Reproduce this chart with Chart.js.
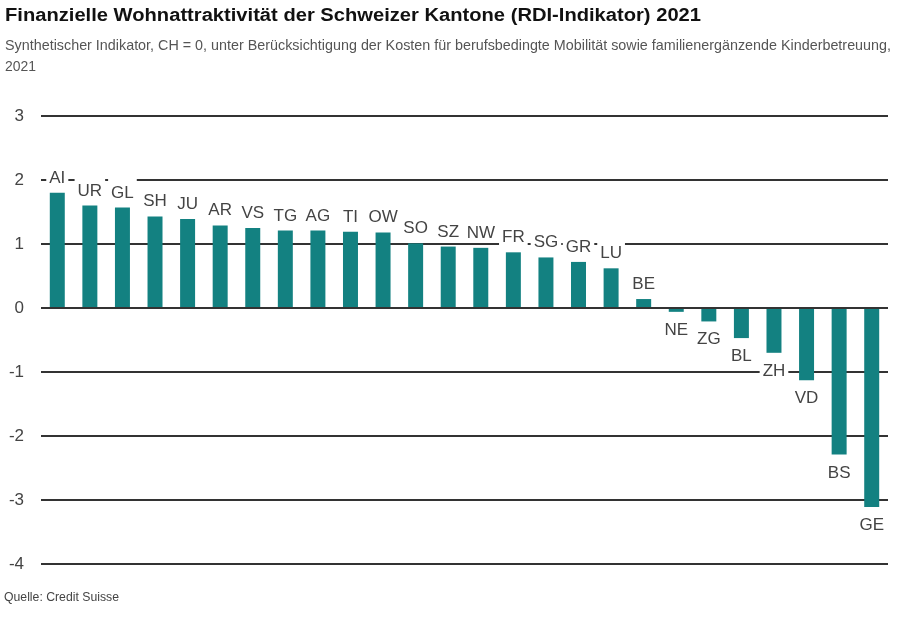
<!DOCTYPE html>
<html>
<head>
<meta charset="utf-8">
<script src="https://cdn.jsdelivr.net/npm/chart.js@4/dist/chart.umd.min.js"></script>
<style>
  html, body { margin: 0; padding: 0; background: #fff; }
  #wrap { position: relative; width: 900px; height: 620px; overflow: hidden; }
  #chartBox { position: absolute; left: 0; top: 0; width: 900px; height: 620px; }
  .txt { position: absolute; white-space: nowrap; display: inline-block; transform-origin: 0 0; font-family: "Liberation Sans", Arial, sans-serif; }
  #title { left: 5px; top: 6px; font-size: 18px; line-height: 18px; font-weight: bold; color: #111; }
  #sub1 { left: 5px; top: 37px; font-size: 15px; line-height: 15px; color: #555; }
  #sub2 { left: 5px; top: 58px; font-size: 15px; line-height: 15px; color: #555; }
  #src { left: 4px; top: 591px; font-size: 12.5px; line-height: 12.5px; color: #444; }
</style>
</head>
<body>
<div id="wrap">
  <div id="chartBox"><canvas id="c"></canvas></div>
  <span class="txt" id="title" data-w="696">Finanzielle Wohnattraktivität der Schweizer Kantone (RDI-Indikator) 2021</span>
  <span class="txt" id="sub1" data-w="886">Synthetischer Indikator, CH = 0, unter Berücksichtigung der Kosten für berufsbedingte Mobilität sowie familienergänzende Kinderbetreuung,</span>
  <span class="txt" id="sub2" data-w="31">2021</span>
  <span class="txt" id="src" data-w="115">Quelle: Credit Suisse</span>
</div>
<script>
const cantons = ['AI','UR','GL','SH','JU','AR','VS','TG','AG','TI','OW','SO','SZ','NW','FR','SG','GR','LU','BE','NE','ZG','BL','ZH','VD','BS','GE'];
const rdiValues = [1.80,1.60,1.57,1.43,1.39,1.29,1.25,1.21,1.21,1.19,1.18,1.01,0.96,0.94,0.87,0.79,0.72,0.62,0.14,-0.06,-0.21,-0.47,-0.70,-1.13,-2.29,-3.11];
const yTickValues = [3,2,1,0,-1,-2,-3,-4];

// fit header/footer text widths to the reference
document.querySelectorAll('.txt').forEach(el => {
  const target = parseFloat(el.dataset.w);
  const w = el.getBoundingClientRect().width;
  if (w > 0) el.style.transform = 'scaleX(' + (target / w) + ')';
});

const BAR_COLOR = '#138181';
const LABEL_FONT = '17px "Liberation Sans", Arial, sans-serif';

const barLabels = {
  id: 'barLabels',
  afterDatasetsDraw(chart) {
    const ctx = chart.ctx;
    const meta = chart.getDatasetMeta(0);
    ctx.save();
    ctx.font = LABEL_FONT;
    ctx.textAlign = 'center';
    ctx.textBaseline = 'alphabetic';
    const cap = 12;
    meta.data.forEach((el, i) => {
      const v = rdiValues[i];
      const txt = cantons[i];
      const w = ctx.measureText(txt).width;
      const baseline = v >= 0 ? el.y - 10 : el.y + 23;
      ctx.fillStyle = '#ffffff';
      ctx.fillRect(el.x - w / 2 - 3, baseline - cap - 8, w + 6, cap + 11);
      ctx.fillStyle = '#444444';
      ctx.fillText(txt, el.x, baseline);
    });
    ctx.restore();
  }
};

new Chart(document.getElementById('c'), {
  type: 'bar',
  data: {
    labels: cantons,
    datasets: [{
      data: rdiValues,
      backgroundColor: BAR_COLOR,
      borderWidth: 0,
      barPercentage: 0.46,
      categoryPercentage: 1.0
    }]
  },
  options: {
    responsive: true,
    maintainAspectRatio: false,
    animation: false,
    layout: { padding: { top: 116, bottom: 56, left: 0, right: 12 } },
    plugins: {
      legend: { display: false },
      tooltip: { enabled: false },
      title: { display: false }
    },
    scales: {
      x: { display: false },
      y: {
        min: -4,
        max: 3,
        afterFit(scale) { scale.width = 41; },
        afterBuildTicks(scale) { scale.ticks = yTickValues.map(v => ({ value: v })); },
        border: { display: false },
        grid: { color: '#333333', lineWidth: 2, drawTicks: false },
        ticks: {
          padding: 17,
          color: '#444444',
          font: { family: '"Liberation Sans", Arial, sans-serif', size: 17 }
        }
      }
    }
  },
  plugins: [barLabels]
});
</script>
</body>
</html>
